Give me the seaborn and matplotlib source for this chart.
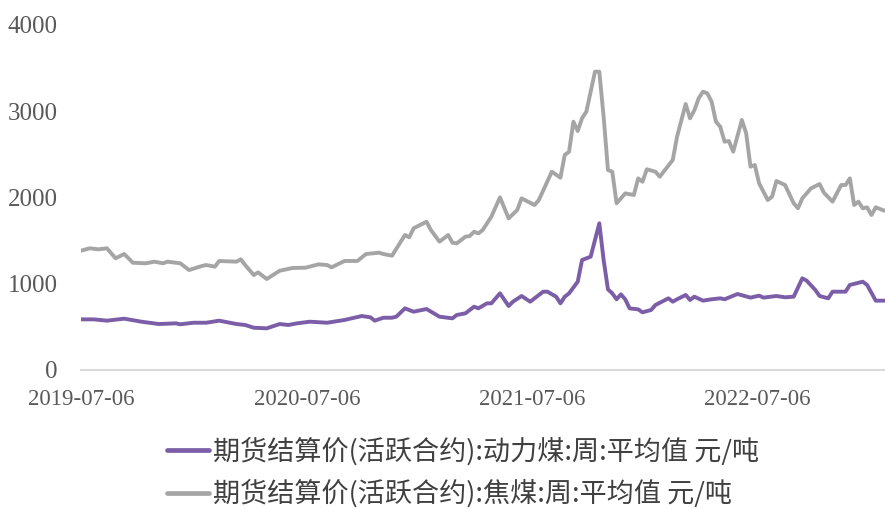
import pandas as pd
import matplotlib
matplotlib.use("Agg")
import matplotlib.pyplot as plt
import seaborn as sns

START = "2019-07-06"
series_names = ["期货结算价(活跃合约):动力煤:周:平均值 元/吨",
                "期货结算价(活跃合约):焦煤:周:平均值 元/吨"]

# week offsets from 2019-07-06 and values (元/吨)
thermal_weeks = [0, 3, 6, 10, 14, 18, 22, 23, 26, 29, 32, 36, 38, 40, 43, 46, 48, 50, 53, 57,
                 61, 65, 67, 68, 70, 72, 73, 75, 77, 80, 83, 86, 87, 89, 91, 92, 94, 95, 97, 99,
                 100, 102, 104, 107, 108, 110, 111, 112, 113, 115, 116, 118, 120, 121, 122, 123,
                 124, 125, 126, 127, 129, 130, 132, 133, 136, 137, 138, 140, 141, 142, 144, 146,
                 148, 149, 152, 155, 157, 158, 161, 163, 165, 167, 168, 170, 171, 173, 174, 177,
                 178, 181, 182, 184, 186]
thermal_vals = [587, 587, 572, 595, 560, 533, 541, 530, 548, 548, 572, 533, 522, 490, 483, 533,
                522, 541, 560, 548, 580, 626, 611, 572, 606, 606, 618, 715, 676, 707, 618, 599,
                638, 657, 734, 715, 773, 773, 889, 742, 792, 858, 792, 908, 908, 850, 773, 850,
                889, 1024, 1275, 1314, 1701, 1275, 935, 889, 820, 877, 820, 715, 703, 669, 696,
                754, 831, 792, 820, 870, 812, 850, 804, 820, 831, 820, 881, 839, 862, 839, 858,
                843, 850, 1063, 1036, 928, 858, 831, 908, 908, 986, 1024, 986, 804, 804]

coking_weeks = [0, 2, 4, 6, 7, 8, 10, 11, 12, 15, 17, 19, 20, 23, 25, 28, 29, 31, 32, 36, 37,
                38, 40, 41, 43, 46, 49, 52, 55, 57, 58, 61, 64, 66, 69, 70, 72, 75, 76, 77, 80,
                81, 83, 85, 86, 87, 89, 90, 91, 92, 93, 95, 97, 99, 101, 102, 105, 106, 109, 111,
                112, 113, 114, 115, 116, 117, 119, 120, 121, 122, 123, 124, 125, 126, 128, 129,
                130, 131, 133, 134, 137, 138, 140, 141, 142, 143, 144, 145, 146, 147, 148, 149,
                150, 151, 153, 154, 155, 156, 157, 159, 160, 161, 163, 165, 166, 167, 169, 171,
                172, 174, 176, 177, 178, 179, 180, 181, 182, 183, 184, 186]
coking_vals = [1383, 1411, 1399, 1411, 1353, 1295, 1345, 1295, 1244, 1237, 1256, 1237, 1256,
               1237, 1159, 1206, 1217, 1198, 1264, 1256, 1283, 1217, 1101, 1132, 1055, 1151,
               1183, 1186, 1225, 1217, 1190, 1264, 1264, 1345, 1360, 1345, 1325, 1565, 1538,
               1643, 1719, 1623, 1488, 1565, 1476, 1468, 1546, 1553, 1603, 1584, 1623, 1777,
               2002, 1758, 1855, 1990, 1913, 1971, 2299, 2230, 2493, 2531, 2879, 2771, 2918,
               2995, 3459, 3459, 2937, 2319, 2299, 1933, 1990, 2048, 2029, 2222, 2183, 2327,
               2299, 2241, 2435, 2705, 3084, 2918, 3010, 3150, 3227, 3208, 3111, 2879, 2821,
               2647, 2655, 2531, 2899, 2744, 2357, 2377, 2164, 1971, 2010, 2191, 2145, 1933,
               1875, 1990, 2106, 2156, 2056, 1952, 2145, 2145, 2222, 1913, 1952, 1875, 1886,
               1797, 1886, 1847]

tick_labels = ["2019-07-06", "2020-07-06", "2021-07-06", "2022-07-06"]
y_ticks = [0, 1000, 2000, 3000, 4000]

colors = ["#7B5EA7", "#A5A5A5"]

start = pd.Timestamp(START)
frames = []
for name, wk, vals in [(series_names[0], thermal_weeks, thermal_vals),
                       (series_names[1], coking_weeks, coking_vals)]:
    frames.append(pd.DataFrame({
        "date": start + pd.to_timedelta([w * 7 for w in wk], unit="D"),
        "value": vals,
        "series": name,
    }))
df = pd.concat(frames, ignore_index=True)

sns.set_theme(style="white")
plt.rcParams["font.family"] = ["Noto Sans CJK SC", "DejaVu Sans"]

fig = plt.figure(figsize=(8.85, 5.09), dpi=100)
ax = fig.add_axes([81 / 885, 1 - 370 / 509, 804 / 885, 345 / 509])

sns.lineplot(data=df, x="date", y="value", hue="series", hue_order=series_names,
             palette=colors, linewidth=2.8, ax=ax, estimator=None, sort=True)

ax.set_xlim(start, start + pd.Timedelta(days=1303))
ax.set_ylim(0, 4000)
ax.set_yticks(y_ticks)
ax.set_yticklabels([str(v) for v in y_ticks], family="Liberation Serif",
                   fontsize=18, color="#595959")
ax.set_xticks([pd.Timestamp(t) for t in tick_labels])
ax.set_xticklabels(tick_labels, family="Liberation Serif", fontsize=16.5, color="#595959")
ax.tick_params(axis="both", length=0)
ax.tick_params(axis="x", pad=14)
ax.tick_params(axis="y", pad=17)
ax.set_xlabel("")
ax.set_ylabel("")
for s in ["top", "right", "left"]:
    ax.spines[s].set_visible(False)
ax.spines["bottom"].set_color("#D9D9D9")
ax.spines["bottom"].set_linewidth(1.5)
ax.grid(False)

leg = ax.legend(loc="upper center", bbox_to_anchor=(0.475, -0.14), ncol=1, frameon=False,
                prop={"family": ["Noto Sans CJK SC", "DejaVu Sans"], "size": 19.5},
                handlelength=1.55, handletextpad=0.15, labelspacing=0.52, labelcolor="#404040",
                borderpad=0.2)
for line in leg.get_lines():
    line.set_linewidth(3.4)

fig.savefig("out.png", dpi=100)
